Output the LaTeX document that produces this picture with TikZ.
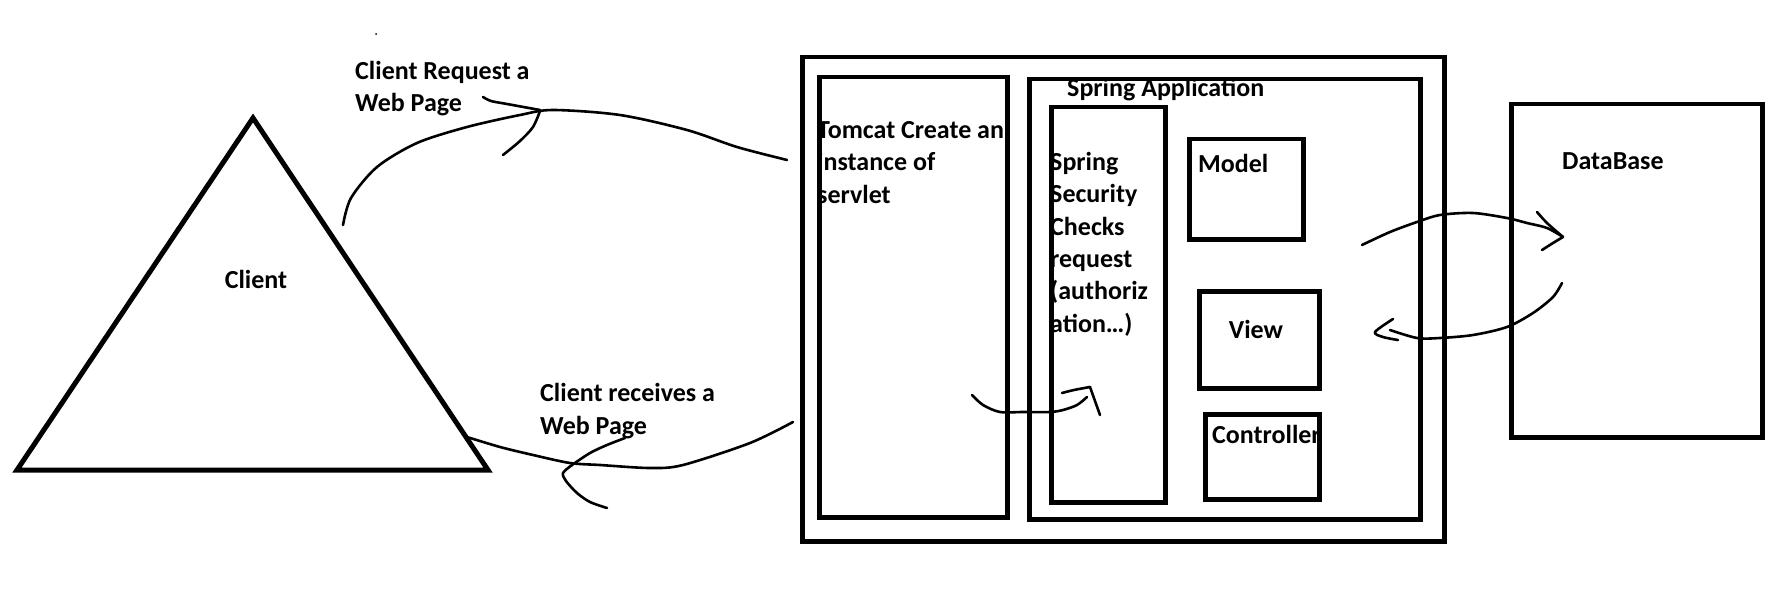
\documentclass[tikz,border=0pt]{standalone}
\usepackage{fontspec}
\setmainfont{Carlito}
\usetikzlibrary{positioning}
\tikzset{
	box/.style={draw, line width=4.5pt, inner sep=0pt, anchor=north west},
	tri/.style={draw, line width=5pt, line join=miter},
	hand/.style={line width=2.6pt, line cap=round, line join=round},
	lbl/.style={font=\bfseries\fontsize{26}{32.3}\selectfont, inner sep=0pt, anchor=base west, align=left}
}
\newcommand{\block}[5] % name, left, top, right, bottom (sketch pixels)
{
	\node[box, minimum width={#4-#2}, minimum height={#5-#3}] (#1) at (#2,#3) {};
}
\begin{document}
\begin{tikzpicture}[x=1pt, y=-1pt]
	% one unit = one pixel of the sketch, y grows downwards
	\useasboundingbox (0,0) rectangle (1791,599);

	% client triangle
	\coordinate (apex) at (253,118);
	\coordinate (baseL) at (17,470);
	\coordinate (baseR) at (488,470);
	\draw[tri] (apex) -- (baseR) -- (baseL) -- cycle;
	\node[lbl, anchor=base] (client) at (256,288) {Client};
	\fill (376,34) circle (1);

	% texts first, the boxes are drawn over them
	% (multi-line texts sit on the baseline of their last line)
	\node[lbl] (reqtxt) at (355,112) {Client Request a\\Web Page};
	\node[lbl] (rectxt) at (540,434) {Client receives a\\Web Page};
	\node[lbl] (tomcattxt) at (817,203) {Tomcat Create an\\instance of\\servlet};
	\node[lbl] (springtxt) at (1067,97) {Spring Application};
	\node[lbl] (sectxt) at (1050,332) {Spring\\Security\\Checks\\request\\(authoriz\\ation…)};
	\node[lbl] (modeltxt) at (1198,172) {Model};
	\node[lbl, anchor=base] (viewtxt) at (1256,338) {View};
	\node[lbl] (ctrltxt) at (1212,443) {Controller};
	\node[lbl] (dbtxt) at (1562,169) {DataBase};

	% boxes
	\block{server}{800}{55}{1442}{539}
	\block{tomcat}{817}{75}{1005}{515}
	\block{spring}{1027}{77}{1418}{517}
	\block{security}{1049}{105}{1163}{500}
	\block{model}{1187}{137}{1301}{237}
	\block{view}{1197}{289}{1317}{386}
	\block{ctrl}{1203}{412}{1317}{497}
	\block{db}{1509}{102}{1760}{435}

	% client -> tomcat
	\coordinate (reqA) at (343,225);
	\coordinate (reqB) at (787,160);
	\draw[hand] plot[smooth] coordinates {(reqA) (351,198) (377,167) (417,143) (467,127) (520,115) (553,110) (620,115) (687,130) (737,147) (reqB)};
	\draw[hand] plot[smooth] coordinates {(483,97) (491,101) (507,104) (540,110)};
	\draw[hand] plot[smooth] coordinates {(540,111) (533,127) (520,141) (503,155)};

	% tomcat -> client
	\coordinate (recA) at (793,422);
	\coordinate (recB) at (467,437);
	\draw[hand] plot[smooth] coordinates {(recA) (750,443) (683,465) (650,468) (600,465) (570,463) (533,455) (500,447) (recB)};
	\draw[hand] plot[smooth] coordinates {(625,438) (607,445) (590,453) (572,465)};
	\draw[hand] plot[smooth] coordinates {(572,465) (563,473) (566,481) (577,493) (590,502) (607,508)};

	% tomcat -> spring security
	\coordinate (secA) at (972,395);
	\coordinate (secB) at (1087,397);
	\draw[hand] plot[smooth] coordinates {(secA) (983,405) (1000,412) (1023,412) (1050,412) (1063,410) (1077,405) (secB)};
	\draw[hand] plot[smooth] coordinates {(1062,393) (1074,390) (1090,387)};
	\draw[hand] (1090,387) -- (1100,415);

	% spring -> database
	\coordinate (dbA) at (1362,245);
	\coordinate (dbB) at (1563,237);
	\draw[hand] plot[smooth] coordinates {(dbA) (1390,232) (1417,222) (1440,215) (1473,213) (1507,218) (1527,223) (1547,228) (dbB)};
	\draw[hand] plot[smooth] coordinates {(1537,212) (1547,223) (dbB)};
	\draw[hand] plot[smooth] coordinates {(dbB) (1553,243) (1542,250)};

	% database -> view
	\coordinate (viewA) at (1562,283);
	\coordinate (viewB) at (1390,330);
	\draw[hand] plot[smooth] coordinates {(viewA) (1553,297) (1533,313) (1507,327) (1473,335) (1440,338) (1417,338) (viewB)};
	\draw[hand] plot[smooth] coordinates {(1393,319) (1375,332) (1383,337) (1398,340)};
\end{tikzpicture}
\end{document}
